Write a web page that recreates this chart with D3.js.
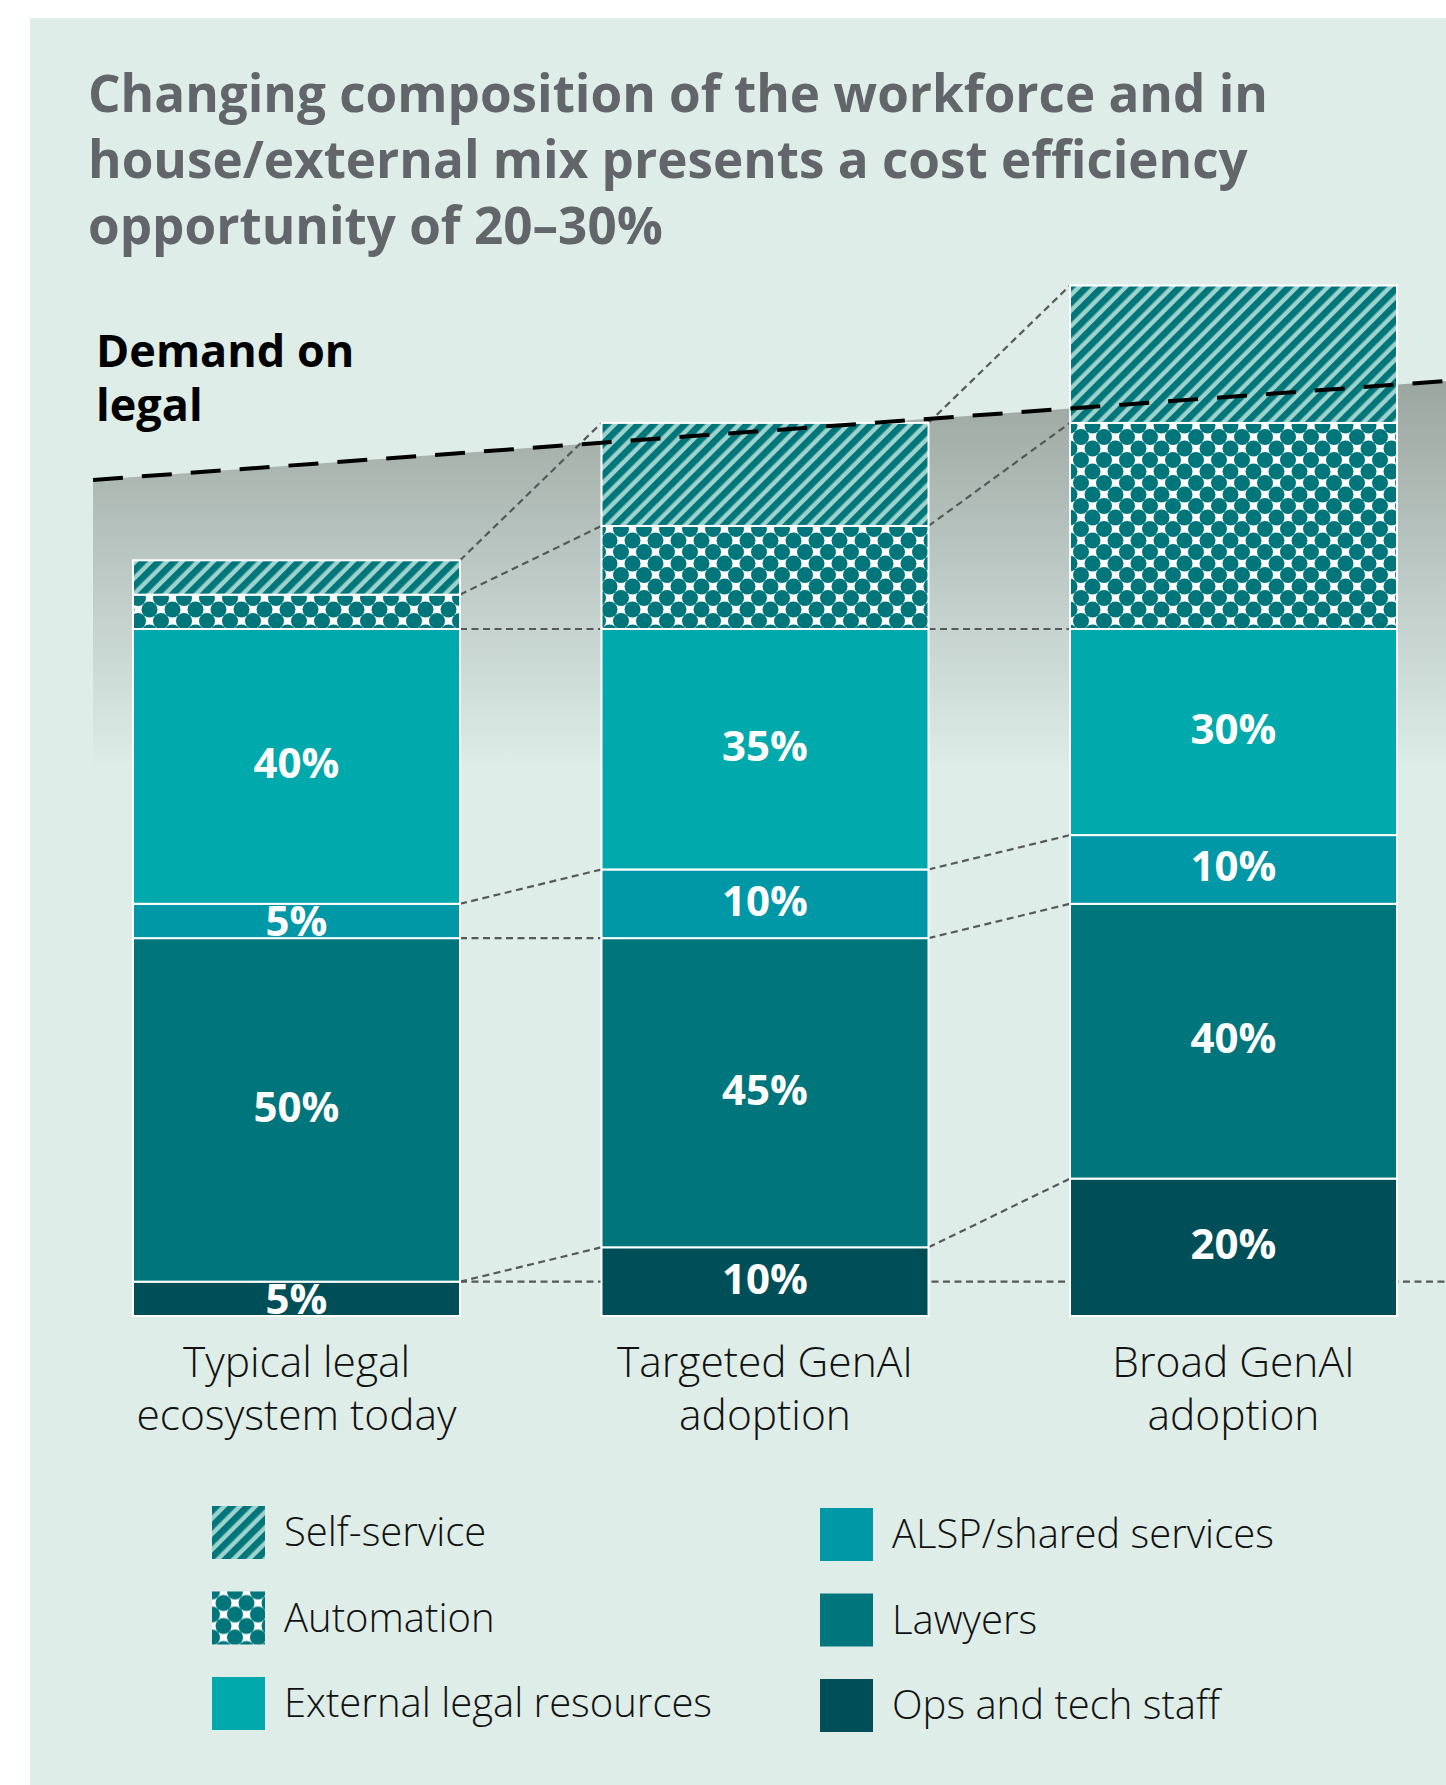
<!DOCTYPE html>
<html>
<head>
<meta charset="utf-8">
<script src="https://cdn.jsdelivr.net/npm/d3@7"></script>
<style>
  body { margin: 0; background: #fff; }
  svg text { font-family: "Open Sans", sans-serif; }
</style>
</head>
<body>
<div id="chart"></div>
<script>
// Categories (bars) and their two-line labels
const categories = ['today', 'targeted', 'broad'];
const categoryLines = [
    ['Typical legal', 'ecosystem today'],
    ['Targeted GenAI', 'adoption'],
    ['Broad GenAI', 'adoption'],
];

// Segment values (% of today's in-house demand), bottom to top
const ops = [5, 10, 20];
const lawyers = [50, 45, 40];
const alsp = [5, 10, 10];
const external = [40, 35, 30];
const automation = [5, 15, 30];
const selfService = [5, 15, 20];

// Demand on legal line: value at start and end of the panel
const demand = [121.7, 136.1];

const titleLines = [
    'Changing composition of the workforce and in',
    'house/external mix presents a cost efficiency',
    'opportunity of 20–30%',
];

const legendLeft = [
    { key: 'selfService', label: 'Self-service' },
    { key: 'automation', label: 'Automation' },
    { key: 'external', label: 'External legal resources' },
];
const legendRight = [
    { key: 'alsp', label: 'ALSP/shared services' },
    { key: 'lawyers', label: 'Lawyers' },
    { key: 'ops', label: 'Ops and tech staff' },
];

const width = 1446;
const height = 1785;
const bg = '#deede8';

const fills = {
    ops: '#004f58',
    lawyers: '#00767c',
    alsp: '#0097a7',
    external: '#00aaac',
    automation: 'url(#dots)',
    selfService: 'url(#stripes)',
};
const labelled = ['ops', 'lawyers', 'alsp', 'external'];

function buildChart() {
    const rows = categories.map((c, i) => ({
        cat: c,
        ops: ops[i],
        lawyers: lawyers[i],
        alsp: alsp[i],
        external: external[i],
        automation: automation[i],
        selfService: selfService[i],
    }));
    const keys = ['ops', 'lawyers', 'alsp', 'external', 'automation', 'selfService'];
    const series = d3.stack().keys(keys)(rows);

    const svg = d3.select('#chart')
        .append('svg')
        .attr('width', width)
        .attr('height', height);

    const defs = svg.append('defs');

    // diagonal stripes for self-service
    const stripes = defs.append('pattern')
        .attr('id', 'stripes')
        .attr('patternUnits', 'userSpaceOnUse')
        .attr('width', 11)
        .attr('height', 11)
        .attr('patternTransform', 'rotate(45)');
    stripes.append('rect').attr('width', 11).attr('height', 11).attr('fill', '#00767a');
    stripes.append('rect').attr('x', 6.6).attr('width', 4.4).attr('height', 11).attr('fill', '#9dd3cc');

    // dot lattice for automation
    const dots = defs.append('pattern')
        .attr('id', 'dots')
        .attr('patternUnits', 'userSpaceOnUse')
        .attr('width', 23)
        .attr('height', 23);
    dots.append('rect').attr('width', 23).attr('height', 23).attr('fill', '#fff');
    [[0, 0], [23, 0], [0, 23], [23, 23], [11.5, 11.5]].forEach(([cx, cy]) => {
        dots.append('circle').attr('cx', cx).attr('cy', cy).attr('r', 8).attr('fill', '#00767a');
    });

    const grad = defs.append('linearGradient')
        .attr('id', 'shade')
        .attr('gradientUnits', 'userSpaceOnUse')
        .attr('x1', 0).attr('x2', 0)
        .attr('y1', 381).attr('y2', 770);
    grad.append('stop').attr('offset', 0).attr('stop-color', '#9ca6a1');
    grad.append('stop').attr('offset', 1).attr('stop-color', bg);

    // panel
    svg.append('rect')
        .attr('x', 30).attr('y', 18)
        .attr('width', width - 30).attr('height', height - 18)
        .attr('fill', bg);

    // title
    svg.append('text')
        .attr('font-size', 51.2)
        .attr('font-weight', 700)
        .attr('fill', '#626569')
        .selectAll('tspan')
        .data(titleLines)
        .join('tspan')
        .attr('x', 88)
        .attr('y', (d, i) => 112 + i * 66)
        .text(d => d);

    // scales
    const xScale = d3.scaleBand()
        .domain(categories)
        .range([133, 1397])
        .paddingInner(0.302);
    const yScale = d3.scaleLinear()
        .domain([0, 100])
        .range([1316, 629]);
    const xDemand = d3.scaleLinear()
        .domain([0, 1])
        .range([93, width]);
    const bw = xScale.bandwidth();

    // shaded area under demand line
    const area = d3.area()
        .x((d, i) => xDemand(i))
        .y0(yScale(0))
        .y1(d => yScale(d));
    svg.append('path')
        .datum(demand)
        .attr('d', area)
        .attr('fill', 'url(#shade)');

    // connectors
    const conn = svg.append('g')
        .attr('fill', 'none')
        .attr('stroke', '#55595b')
        .attr('stroke-width', 2.2)
        .attr('stroke-dasharray', '7,4.5');

    // today's ops level carried across
    conn.append('line')
        .attr('x1', xScale(categories[0]) + bw)
        .attr('x2', width)
        .attr('y1', yScale(ops[0]))
        .attr('y2', yScale(ops[0]));

    const links = [];
    series.forEach(s => {
        for (let i = 0; i < categories.length - 1; i++) {
            links.push({ a: s[i][1], b: s[i + 1][1], i });
        }
    });
    conn.selectAll('line.link')
        .data(links)
        .join('line')
        .attr('class', 'link')
        .attr('x1', d => xScale(categories[d.i]) + bw)
        .attr('x2', d => xScale(categories[d.i + 1]))
        .attr('y1', d => yScale(d.a))
        .attr('y2', d => yScale(d.b));

    // bars
    const groups = svg.append('g')
        .selectAll('g')
        .data(series)
        .join('g')
        .attr('fill', d => fills[d.key]);
    groups.selectAll('rect')
        .data(d => d)
        .join('rect')
        .attr('x', d => xScale(d.data.cat))
        .attr('y', d => yScale(d[1]))
        .attr('width', bw)
        .attr('height', d => yScale(d[0]) - yScale(d[1]))
        .attr('stroke', '#fff')
        .attr('stroke-width', 2);

    // demand line
    const line = d3.line()
        .x((d, i) => xDemand(i))
        .y(d => yScale(d));
    svg.append('path')
        .datum(demand)
        .attr('d', line)
        .attr('fill', 'none')
        .attr('stroke', '#000')
        .attr('stroke-width', 4)
        .attr('stroke-dasharray', '30,19');

    svg.append('text')
        .attr('font-size', 45)
        .attr('font-weight', 700)
        .attr('fill', '#000')
        .selectAll('tspan')
        .data(['Demand on', 'legal'])
        .join('tspan')
        .attr('x', 96)
        .attr('y', (d, i) => 367 + i * 54)
        .text(d => d);

    // segment labels
    const labels = [];
    series.filter(s => labelled.includes(s.key)).forEach(s => {
        s.forEach(d => labels.push({ cat: d.data.cat, y0: d[0], y1: d[1], v: d[1] - d[0] }));
    });
    svg.append('g')
        .selectAll('text')
        .data(labels)
        .join('text')
        .attr('x', d => xScale(d.cat) + bw / 2)
        .attr('y', d => (yScale(d.y0) + yScale(d.y1)) / 2 + (d.v <= 5 ? 15 : 12))
        .attr('text-anchor', 'middle')
        .attr('font-size', 42)
        .attr('font-weight', 700)
        .attr('fill', '#fff')
        .text(d => d.v + '%');

    // category labels
    const cats = svg.append('g')
        .selectAll('text')
        .data(categories)
        .join('text')
        .attr('text-anchor', 'middle')
        .attr('font-size', 42.5)
        .attr('font-weight', 300)
        .attr('fill', '#111');
    cats.selectAll('tspan')
        .data((d, i) => categoryLines[i].map(t => ({ t, c: d })))
        .join('tspan')
        .attr('x', d => xScale(d.c) + bw / 2)
        .attr('y', (d, i) => 1377 + i * 53)
        .text(d => d.t);

    // legend
    const drawLegend = (items, x, y0) => {
        const g = svg.append('g')
            .selectAll('g')
            .data(items)
            .join('g')
            .attr('transform', (d, i) => `translate(${x},${y0 + i * 85.5})`);
        g.append('rect')
            .attr('width', 53)
            .attr('height', 53)
            .attr('fill', d => fills[d.key]);
        g.append('text')
            .attr('x', 72)
            .attr('y', 40)
            .attr('font-size', 40)
            .attr('font-weight', 300)
            .attr('fill', '#111')
            .text(d => d.label);
    };
    drawLegend(legendLeft, 212, 1506);
    drawLegend(legendRight, 820, 1508);
}

document.addEventListener('DOMContentLoaded', () => {
    buildChart();
});
</script>
</body>
</html>
